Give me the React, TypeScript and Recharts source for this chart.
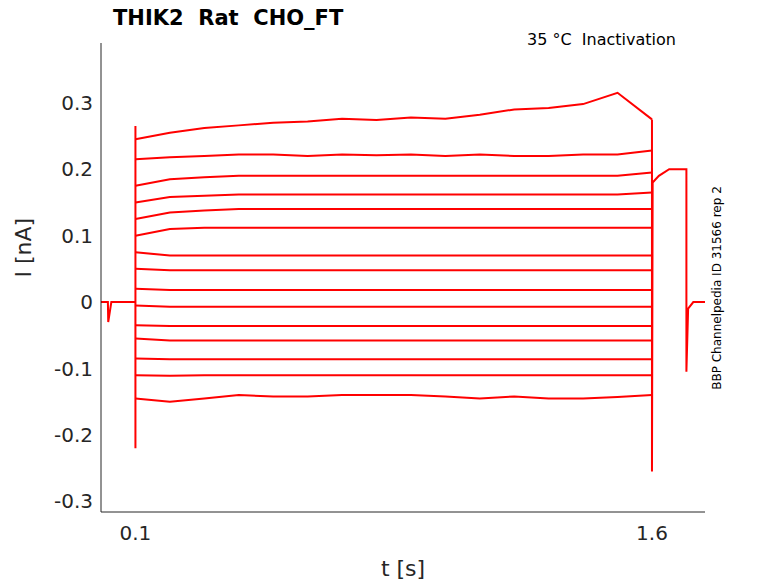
import React from 'react';
import { LineChart, Line, XAxis, YAxis } from 'recharts';

const sampleTimes = [0.1, 0.2, 0.3, 0.4, 0.5, 0.6, 0.7, 0.8, 0.9, 1.0, 1.1, 1.2, 1.3, 1.4, 1.5, 1.6];
const traces: number[][] = [
  [0.245, 0.255, 0.262, 0.266, 0.27, 0.272, 0.276, 0.274, 0.278, 0.276, 0.282, 0.29, 0.292, 0.298, 0.315, 0.275],
  [0.215, 0.218, 0.22, 0.222, 0.222, 0.22, 0.222, 0.221, 0.222, 0.22, 0.222, 0.22, 0.22, 0.222, 0.222, 0.228],
  [0.175, 0.185, 0.188, 0.19, 0.19, 0.19, 0.19, 0.19, 0.19, 0.19, 0.19, 0.19, 0.19, 0.19, 0.19, 0.195],
  [0.15, 0.158, 0.16, 0.162, 0.162, 0.162, 0.162, 0.162, 0.162, 0.162, 0.162, 0.162, 0.162, 0.162, 0.162, 0.165],
  [0.125, 0.135, 0.138, 0.14, 0.14, 0.14, 0.14, 0.14, 0.14, 0.14, 0.14, 0.14, 0.14, 0.14, 0.14, 0.14],
  [0.1, 0.11, 0.112, 0.112, 0.112, 0.112, 0.112, 0.112, 0.112, 0.112, 0.112, 0.112, 0.112, 0.112, 0.112, 0.112],
  [0.075, 0.07, 0.07, 0.07, 0.07, 0.07, 0.07, 0.07, 0.07, 0.07, 0.07, 0.07, 0.07, 0.07, 0.07, 0.07],
  [0.05, 0.048, 0.048, 0.048, 0.048, 0.048, 0.048, 0.048, 0.048, 0.048, 0.048, 0.048, 0.048, 0.048, 0.048, 0.048],
  [0.02, 0.018, 0.018, 0.018, 0.018, 0.018, 0.018, 0.018, 0.018, 0.018, 0.018, 0.018, 0.018, 0.018, 0.018, 0.018],
  [-0.005, -0.007, -0.007, -0.007, -0.007, -0.007, -0.007, -0.007, -0.007, -0.007, -0.007, -0.007, -0.007, -0.007, -0.007, -0.007],
  [-0.035, -0.036, -0.036, -0.036, -0.036, -0.036, -0.036, -0.036, -0.036, -0.036, -0.036, -0.036, -0.036, -0.036, -0.036, -0.036],
  [-0.055, -0.058, -0.058, -0.058, -0.058, -0.058, -0.058, -0.058, -0.058, -0.058, -0.058, -0.058, -0.058, -0.058, -0.058, -0.058],
  [-0.085, -0.086, -0.086, -0.086, -0.086, -0.086, -0.086, -0.086, -0.086, -0.086, -0.086, -0.086, -0.086, -0.086, -0.086, -0.086],
  [-0.11, -0.111, -0.11, -0.11, -0.11, -0.11, -0.11, -0.11, -0.11, -0.11, -0.11, -0.11, -0.11, -0.11, -0.11, -0.11],
  [-0.145, -0.15, -0.145, -0.14, -0.142, -0.142, -0.14, -0.14, -0.14, -0.142, -0.145, -0.142, -0.145, -0.145, -0.143, -0.14],
];
const preTimes = [0, 0.02, 0.021, 0.03, 0.0999, 0.1, 0.1];
const preValues = [0, 0, -0.03, 0, 0, -0.22, 0.265];
const postTimes = [1.6, 1.6, 1.602, 1.62, 1.65, 1.68, 1.7, 1.7, 1.705, 1.72, 1.754];
const postValues = [0.275, -0.255, 0.18, 0.19, 0.2, 0.2, 0.2, -0.105, -0.01, 0, 0];
const yTicks = [-0.3, -0.2, -0.1, 0, 0.1, 0.2, 0.3];
const xTicks = [0.1, 1.6];

const RED = '#ff0000';
const TXT = '#262626';

const preData = preTimes.map((t, i) => ({ t, v: preValues[i] }));
const postData = postTimes.map((t, i) => ({ t, v: postValues[i] }));
const traceData = traces.map(vals => sampleTimes.map((t, i) => ({ t, v: vals[i] })));

export default function App() {
  return (
    <div style={{ position: 'relative', width: 770, height: 575, fontFamily: 'DejaVu Sans' }}>
      <LineChart width={770} height={575} margin={{ top: 35, right: 73, bottom: 41, left: 33 }}>
        <XAxis dataKey="t" type="number" domain={[0, 1.754]} ticks={xTicks} allowDataOverflow
          tickFormatter={(v: number) => String(v)} tickLine={false} height={30}
          stroke={TXT} tick={{ fill: TXT, fontSize: 20, dy: 6 }}
          label={{ value: 't [s]', position: 'insideBottom', offset: -34, fill: TXT, fontSize: 22 }} />
        <YAxis type="number" domain={[-0.316, 0.39]} ticks={yTicks} allowDataOverflow width={60}
          tickFormatter={(v: number) => String(v)} tickLine={false}
          stroke={TXT} tick={{ fill: TXT, fontSize: 20 }}
          label={{ value: 'I [nA]', angle: -90, position: 'insideLeft', offset: -18, fill: TXT, fontSize: 22 }} />
        <Line data={preData} dataKey="v" stroke={RED} dot={false} strokeWidth={2} isAnimationActive={false} type="linear" />
        <Line data={postData} dataKey="v" stroke={RED} dot={false} strokeWidth={2} isAnimationActive={false} type="linear" />
        {traceData.map((d, i) => (
          <Line key={i} data={d} dataKey="v" stroke={RED} dot={false} strokeWidth={2} isAnimationActive={false} type="linear" />
        ))}
      </LineChart>
      <div style={{ position: 'absolute', left: 105, top: -2, fontSize: 21, fontWeight: 'bold', color: '#000' }}>THIK2&nbsp;&nbsp;Rat&nbsp;&nbsp;CHO_FT</div>
      <div style={{ position: 'absolute', left: 519, top: 22, fontSize: 16, color: '#000' }}>35 °C&nbsp;&nbsp;Inactivation</div>
      <div style={{ position: 'absolute', left: 709, top: 280, fontSize: 12, color: '#000', whiteSpace: 'nowrap',
        transform: 'translate(-50%, -50%) rotate(-90deg)', transformOrigin: 'center', width: 240, textAlign: 'center' }}>
        BBP Channelpedia ID 31566 rep 2
      </div>
    </div>
  );
}
